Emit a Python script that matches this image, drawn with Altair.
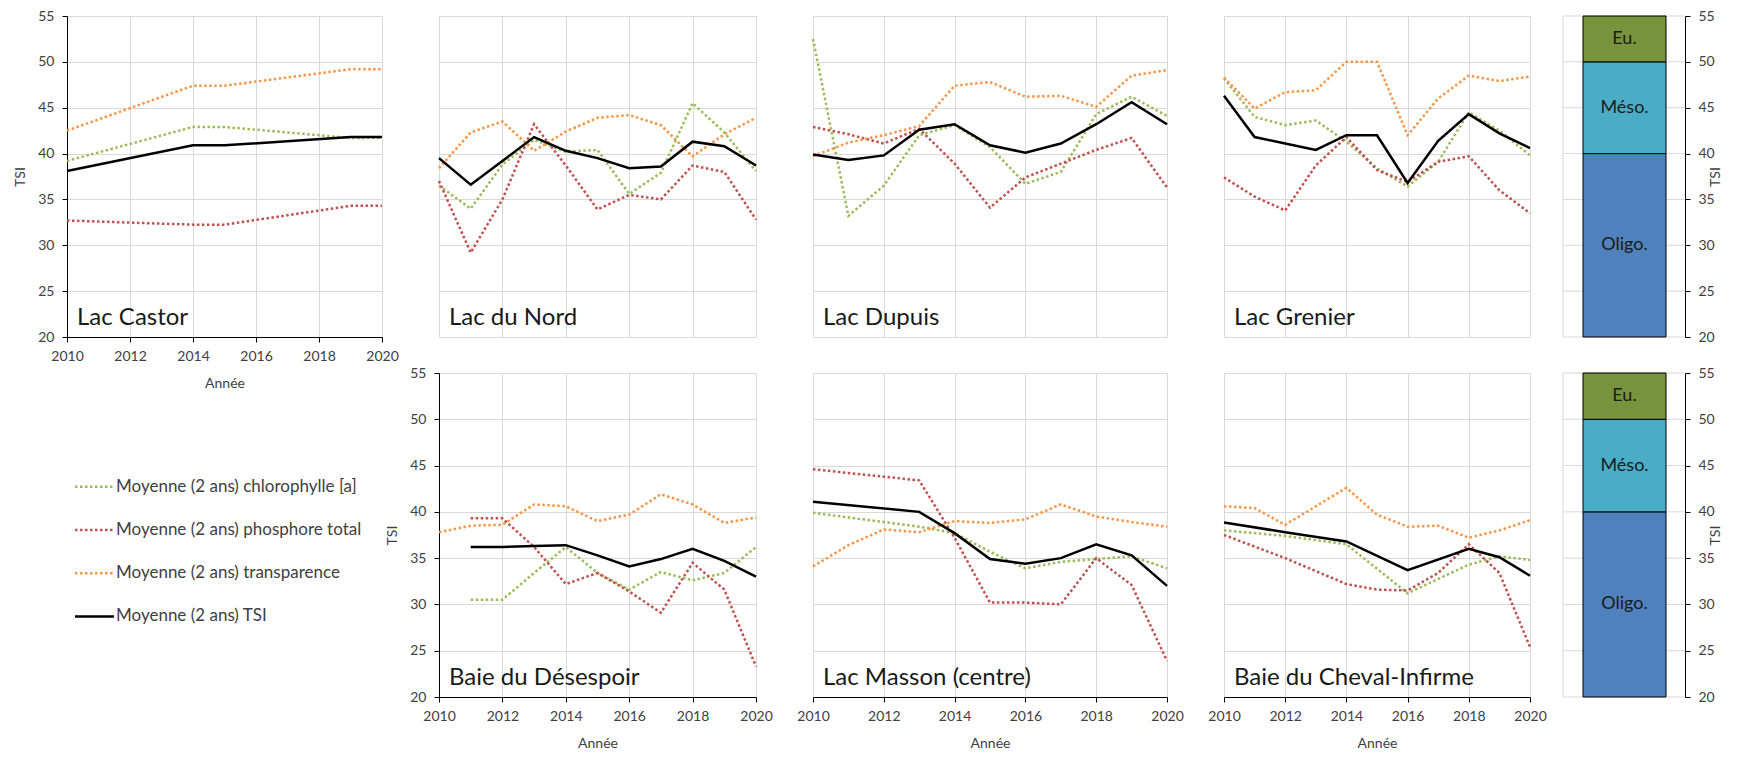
import altair as alt
import pandas as pd

YEARS = [2010, 2011, 2012, 2013, 2014, 2015, 2016, 2017, 2018, 2019, 2020]
X_TICKS = [2010, 2012, 2014, 2016, 2018, 2020]
Y_TICKS = [20, 25, 30, 35, 40, 45, 50, 55]

SERIES = [
    "Moyenne (2 ans) chlorophylle [a]",
    "Moyenne (2 ans) phosphore total",
    "Moyenne (2 ans) transparence",
    "Moyenne (2 ans) TSI",
]
COLORS = ["#9BBB59", "#C0504D", "#F79646", "#000000"]

# ---- values per lake (2010..2020), None = no point ----
castor_chl = [39.2, None, None, None, 42.9, 42.9, None, None, None, 41.7, 41.7]
castor_pt = [32.7, None, None, None, 32.25, 32.25, None, None, None, 34.3, 34.3]
castor_tr = [42.5, None, None, None, 47.4, 47.4, None, None, None, 49.2, 49.2]
castor_tsi = [38.1, None, None, None, 40.9, 40.9, None, None, None, 41.8, 41.8]

nord_chl = [36.5, 34.0, 38.8, 41.5, 40.2, 40.4, 35.6, 37.9, 45.5, 42.3, 38.1]
nord_pt = [37.0, 29.2, 35.0, 43.2, 38.7, 33.9, 35.5, 35.0, 38.7, 38.0, 32.8]
nord_tr = [38.4, 42.3, 43.5, 40.3, 42.4, 43.9, 44.2, 43.1, 39.7, 42.1, 43.9]
nord_tsi = [39.5, 36.6, 39.2, 41.8, 40.3, 39.5, 38.4, 38.6, 41.3, 40.8, 38.7]

dupuis_chl = [52.5, 33.2, 36.5, 42.0, 43.1, 40.7, 36.7, 38.0, 44.3, 46.2, 44.1]
dupuis_pt = [42.9, 42.1, 41.1, 42.7, 38.9, 34.1, 37.4, 38.9, 40.4, 41.7, 36.3]
dupuis_tr = [39.7, 41.2, 42.0, 43.0, 47.4, 47.8, 46.2, 46.3, 45.1, 48.5, 49.1]
dupuis_tsi = [39.9, 39.3, 39.8, 42.6, 43.2, 40.9, 40.1, 41.1, 43.2, 45.6, 43.2]

grenier_chl = [48.2, 44.0, 43.1, 43.6, 41.3, 38.4, 36.4, 39.1, 44.5, 42.5, 39.8]
grenier_pt = [37.4, 35.3, 33.8, 38.7, 41.8, 38.2, 36.9, 39.1, 39.7, 36.0, 33.5]
grenier_tr = [48.3, 44.9, 46.7, 46.9, 50.0, 50.0, 42.0, 46.0, 48.5, 47.9, 48.4]
grenier_tsi = [46.3, 41.8, 41.1, 40.4, 42.0, 42.0, 36.8, 41.4, 44.3, 42.2, 40.6]

desespoir_chl = [None, 30.5, 30.5, 33.4, 36.2, 33.4, 31.6, 33.5, 32.6, 33.4, 36.2]
desespoir_pt = [None, 39.3, 39.3, 36.2, 32.2, 33.4, 31.4, 29.1, 34.5, 31.6, 23.3]
desespoir_tr = [37.8, 38.5, 38.6, 40.8, 40.6, 39.0, 39.7, 41.9, 40.8, 38.8, 39.4]
desespoir_tsi = [None, 36.2, 36.2, 36.3, 36.4, 35.3, 34.1, 34.9, 36.0, 34.7, 33.0]

masson_chl = [39.9, None, 38.9, 38.4, 37.7, 35.7, 33.9, 34.6, 34.9, 35.2, 33.9]
masson_pt = [44.6, None, 43.8, 43.4, 37.2, 30.2, 30.2, 30.0, 35.0, 32.1, 23.9]
masson_tr = [34.1, 36.4, 38.1, 37.8, 39.0, 38.8, 39.2, 40.8, 39.5, 38.9, 38.4]
masson_tsi = [41.1, None, None, 40.0, 37.7, 34.9, 34.4, 35.0, 36.5, 35.3, 32.0]

cheval_chl = [38.0, None, 37.4, None, 36.5, None, 31.2, None, 34.3, 35.2, 34.8]
cheval_pt = [37.5, None, 35.0, None, 32.2, 31.6, 31.5, 33.4, 36.5, 33.4, 25.4]
cheval_tr = [40.6, 40.4, 38.6, None, 42.6, 39.7, 38.4, 38.5, 37.2, 38.0, 39.1]
cheval_tsi = [38.85, None, 37.8, None, 36.8, None, 33.7, None, 36.0, 35.1, 33.1]

LAKES = [
    "Lac Castor", "Lac du Nord", "Lac Dupuis", "Lac Grenier",
    "Baie du Désespoir", "Lac Masson (centre)", "Baie du Cheval-Infirme",
]

ZONES = ["Oligo.", "Méso.", "Eu."]
ZONE_LOW = [20, 40, 50]
ZONE_HIGH = [40, 50, 55]
ZONE_COLORS = ["#4F81BD", "#4BACC6", "#77933C"]

FONT = "Lato"
TEXT_COLOR = "#404040"
GRID = "#d9d9d9"
DOT = [2.5, 2.5]


def lake_df(chl, pt, tr, tsi):
    rows = []
    for s, vals in zip(SERIES, [chl, pt, tr, tsi]):
        for yr, v in zip(YEARS, vals):
            if v is not None:
                rows.append({"series": s, "year": yr, "tsi": v})
    return pd.DataFrame(rows)


color_scale = alt.Scale(domain=SERIES, range=COLORS)


def line_panel(name, vals, width, height, show_x, show_y):
    df = lake_df(*vals)
    if show_x:
        xaxis = alt.Axis(values=X_TICKS, format="d", grid=True, title="Année",
                         labelPadding=7, titlePadding=13, tickSize=5)
    else:
        xaxis = alt.Axis(values=X_TICKS, format="d", grid=True, title=None,
                         labels=False, ticks=False, domain=False)
    if show_y:
        yaxis = alt.Axis(values=Y_TICKS, grid=True, title="TSI",
                         labelPadding=8, titlePadding=10, tickSize=5)
    else:
        yaxis = alt.Axis(values=Y_TICKS, grid=True, title=None,
                         labels=False, ticks=False, domain=False)
    x = alt.X("year:Q", scale=alt.Scale(domain=[2010, 2020], nice=False, zero=False), axis=xaxis)
    y = alt.Y("tsi:Q", scale=alt.Scale(domain=[20, 55], nice=False, zero=False), axis=yaxis)
    base = alt.Chart(df)
    dotted = base.transform_filter(
        alt.datum.series != SERIES[3]
    ).mark_line(strokeWidth=2.5, strokeDash=DOT, strokeCap="butt").encode(
        x=x, y=y,
        color=alt.Color("series:N", scale=color_scale, legend=None),
        detail="series:N",
    )
    solid = base.transform_filter(
        alt.datum.series == SERIES[3]
    ).mark_line(strokeWidth=2.5, color="black").encode(x=x, y=y)
    label = alt.Chart(pd.DataFrame({"lake": [name]})).mark_text(
        align="left", baseline="alphabetic", font=FONT, fontSize=24, color="#1a1a1a"
    ).encode(text="lake:N", x=alt.value(10), y=alt.value(height - 12))
    return alt.layer(dotted, solid, label).properties(width=width, height=height)


def zone_panel(width, height):
    zdf = pd.DataFrame({"zone": ZONES, "low": ZONE_LOW, "high": ZONE_HIGH})
    gdf = pd.DataFrame({"v": Y_TICKS})
    yscale = alt.Scale(domain=[20, 55], nice=False, zero=False)
    yax = alt.Axis(orient="right", values=Y_TICKS, grid=False, title="TSI",
                   titleAngle=270, labelPadding=8, titlePadding=8, tickSize=5)
    grid = alt.Chart(gdf).mark_rule(color=GRID, strokeWidth=1).encode(
        x=alt.value(-24), x2=alt.value(width),
        y=alt.Y("v:Q", scale=yscale, axis=yax),
    )
    edge = alt.Chart(pd.DataFrame({"e": [0]})).mark_rule(color=GRID, strokeWidth=1).encode(
        x=alt.value(-24), y=alt.value(0), y2=alt.value(height)
    )
    base = alt.Chart(zdf).transform_calculate(mid="(datum.low + datum.high) / 2")
    bars = base.mark_bar(stroke="black", strokeWidth=1).encode(
        x=alt.value(-4), x2=alt.value(79),
        y=alt.Y("low:Q", scale=yscale, axis=yax),
        y2="high:Q",
        fill=alt.Fill("zone:N", scale=alt.Scale(domain=ZONES, range=ZONE_COLORS), legend=None),
    )
    texts = base.mark_text(font=FONT, fontSize=18, color="#1a1a1a").encode(
        x=alt.value(37.5),
        y=alt.Y("mid:Q", scale=yscale, axis=yax),
        text="zone:N",
    )
    return alt.layer(grid, edge, bars, texts).properties(width=width, height=height)


def legend_panel(width, height):
    ldf = pd.DataFrame({"series": SERIES})
    ly = alt.Y("series:N", sort=SERIES, axis=None,
               scale=alt.Scale(type="point", domain=SERIES, range=[92, 265]))
    rules = alt.Chart(ldf).mark_rule(strokeWidth=2.5, strokeCap="butt").encode(
        x=alt.value(8), x2=alt.value(47), y=ly,
        color=alt.Color("series:N", scale=color_scale, legend=None),
        strokeDash=alt.StrokeDash("series:N", legend=None,
                                  scale=alt.Scale(domain=SERIES, range=[DOT, DOT, DOT, [1, 0]])),
    )
    texts = alt.Chart(ldf).mark_text(align="left", baseline="middle", font=FONT,
                                     fontSize=17, color=TEXT_COLOR).encode(
        x=alt.value(49), y=ly, text="series:N")
    return alt.layer(rules, texts).properties(width=width, height=height)


H1 = 321
H2 = 324
W = [315, 317, 354, 306, 98]

p1 = line_panel(LAKES[0], (castor_chl, castor_pt, castor_tr, castor_tsi), W[0], H1, True, True)
p2 = line_panel(LAKES[1], (nord_chl, nord_pt, nord_tr, nord_tsi), W[1], H1, False, False)
p3 = line_panel(LAKES[2], (dupuis_chl, dupuis_pt, dupuis_tr, dupuis_tsi), W[2], H1, False, False)
p4 = line_panel(LAKES[3], (grenier_chl, grenier_pt, grenier_tr, grenier_tsi), W[3], H1, False, False)
z1 = zone_panel(W[4], H1)

leg = legend_panel(W[0], H2)
p5 = line_panel(LAKES[4], (desespoir_chl, desespoir_pt, desespoir_tr, desespoir_tsi), W[1], H2, True, True)
p6 = line_panel(LAKES[5], (masson_chl, masson_pt, masson_tr, masson_tsi), W[2], H2, True, False)
p7 = line_panel(LAKES[6], (cheval_chl, cheval_pt, cheval_tr, cheval_tsi), W[3], H2, True, False)
z2 = zone_panel(W[4], H2)

chart = alt.concat(
    p1, p2, p3, p4, z1, leg, p5, p6, p7, z2,
    columns=5, spacing={"row": 36, "column": 57}, bounds="flush",
).resolve_scale(
    x="independent", y="independent", color="independent",
    fill="independent", strokeDash="independent",
).resolve_axis(
    x="independent", y="independent",
).properties(
    padding={"left": 5, "top": 0, "right": 5, "bottom": 0}
).configure_view(
    stroke="transparent"
).configure_axis(
    labelFont=FONT, titleFont=FONT, labelFontSize=14, titleFontSize=14,
    titleFontWeight="normal", labelColor=TEXT_COLOR, titleColor=TEXT_COLOR,
    gridColor=GRID, gridWidth=1, domainColor="black", tickColor="black",
    labelFlush=False,
)

chart.save("out.html", embed_options={"renderer": "svg", "actions": False})
